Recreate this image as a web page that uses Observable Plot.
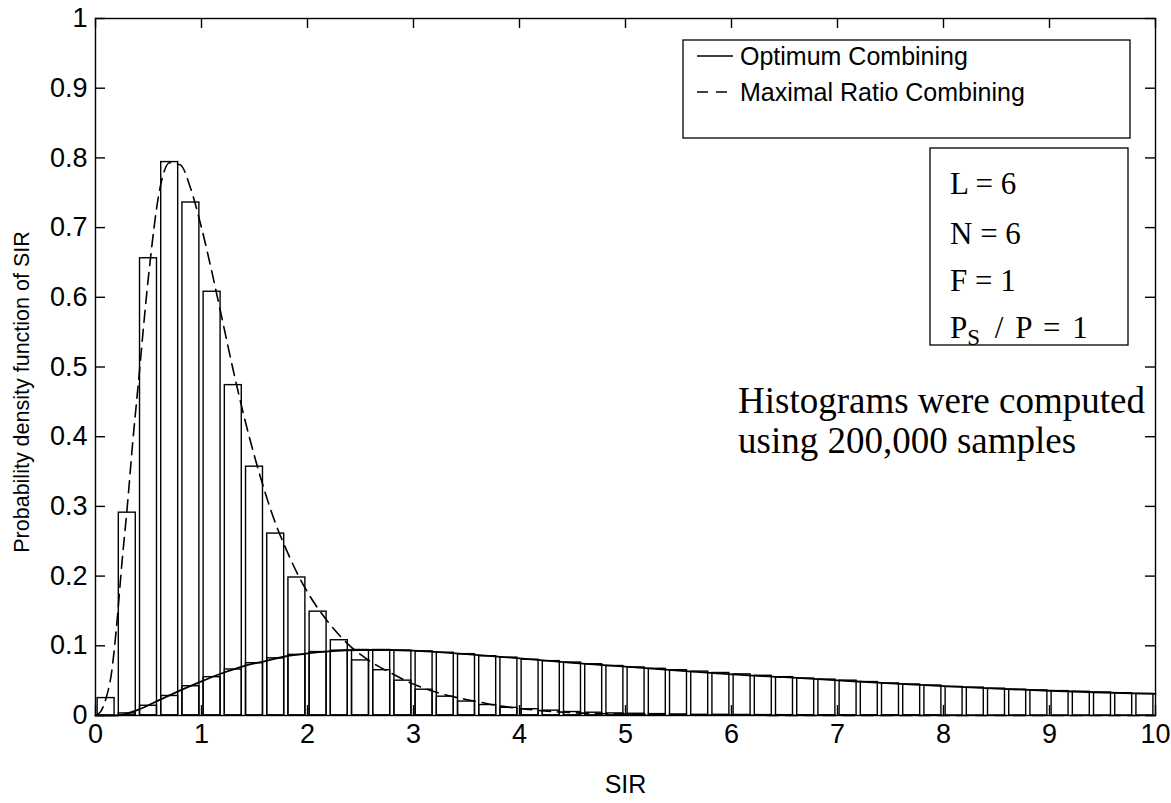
<!DOCTYPE html>
<html><head><meta charset="utf-8">
<script src="https://cdn.jsdelivr.net/npm/d3@7"></script>
<script src="https://cdn.jsdelivr.net/npm/@observablehq/plot@0.6"></script>
<style>body{margin:0;background:#fff}</style>
</head><body><div id="chart"></div>
<script>
// Histogram bin centres (SIR)
const binCenters = [0.1,0.3,0.5,0.7,0.9,1.1,1.3,1.5,1.7,1.9,2.1,2.3,2.5,2.7,2.9,3.1,3.3,3.5,3.7,3.9,
  4.1,4.3,4.5,4.7,4.9,5.1,5.3,5.5,5.7,5.9,6.1,6.3,6.5,6.7,6.9,7.1,7.3,7.5,7.7,7.9,
  8.1,8.3,8.5,8.7,8.9,9.1,9.3,9.5,9.7,9.9];
// Maximal Ratio Combining histogram
const mrcHist = [0.025,0.291,0.656,0.794,0.736,0.608,0.474,0.357,0.261,0.198,0.149,0.108,0.079,0.065,0.050,0.037,0.027,0.020,0.015,0.011,
  0.009,0.007,0.005,0.004,0.003,0.0025,0.002,0.0015,0.001,0.001,0.0008,0.0006,0.0005,0.0004,0.0003,0.0002,0.0002,0.0001,0.0001,0.0001,
  0,0,0,0,0,0,0,0,0,0];
// Optimum Combining histogram
const ocHist = [0.000,0.003,0.014,0.028,0.042,0.055,0.066,0.075,0.082,0.087,0.091,0.093,0.094,0.094,0.093,0.092,0.090,0.088,0.085,0.083,
  0.080,0.078,0.076,0.0735,0.071,0.069,0.067,0.065,0.063,0.061,0.059,0.057,0.055,0.053,0.0515,0.050,0.048,0.046,0.0445,0.043,
  0.041,0.040,0.0385,0.037,0.036,0.035,0.034,0.033,0.032,0.031];
const barWidth = 0.16;
// Optimum Combining curve
const ocX = [0,0.2,0.3,0.4,0.6,0.8,1.0,1.2,1.4,1.6,1.8,2.0,2.2,2.5,2.8,3.0,3.5,4.0,4.5,5.0,5.5,6.0,6.5,7.0,7.5,8.0,8.5,9.0,9.5,10];
const ocY = [0,0,0.003,0.008,0.022,0.036,0.049,0.061,0.071,0.078,0.085,0.089,0.092,0.094,0.094,0.093,0.088,0.082,0.0755,0.070,0.0645,0.059,0.055,0.0505,0.046,0.042,0.0385,0.0355,0.033,0.031];
// Maximal Ratio Combining curve
const mrcX = [0,0.05,0.1,0.15,0.2,0.25,0.3,0.35,0.4,0.5,0.6,0.7,0.8,0.9,1.0,1.1,1.2,1.3,1.4,1.5,1.6,1.7,1.8,1.9,2.0,2.2,2.4,2.6,2.8,3.0,3.2,3.4,3.6,3.8,4.0,4.5,5.0,6.0,7.0,10];
const mrcY = [0,0.006,0.025,0.06,0.13,0.22,0.30,0.39,0.47,0.63,0.75,0.793,0.79,0.755,0.70,0.635,0.565,0.495,0.43,0.372,0.32,0.275,0.238,0.205,0.177,0.133,0.1,0.077,0.06,0.045,0.034,0.026,0.02,0.014,0.01,0.004,0.002,0.0005,0,0];
// Ticks
const xTicks = [0,1,2,3,4,5,6,7,8,9,10];
const yTicks = [0,0.1,0.2,0.3,0.4,0.5,0.6,0.7,0.8,0.9,1];
const legendLabels = ["Optimum Combining","Maximal Ratio Combining"];
const paramLines = ["L = 6","N = 6","F = 1"];
const noteLines = ["Histograms were computed","using 200,000 samples"];

const W = 1171, H = 803, mL = 95, mR = 16, mT = 18, mB = 88;
const plotW = W - mL - mR, plotH = H - mT - mB;
const ocRows = binCenters.map((c,i)=>({x1:c-barWidth/2,x2:c+barWidth/2,y:ocHist[i]}));
const mrcRows = binCenters.map((c,i)=>({x1:c-barWidth/2,x2:c+barWidth/2,y:mrcHist[i]}));
const ocLine = ocX.map((x,i)=>({x,y:ocY[i]}));
const mrcLine = mrcX.map((x,i)=>({x,y:mrcY[i]}));
const sans = "'Liberation Sans', Arial, Helvetica, sans-serif";
const serif = "'Liberation Serif', 'Times New Roman', serif";

const plot = Plot.plot({
  width: W, height: H, marginLeft: mL, marginRight: mR, marginTop: mT, marginBottom: mB,
  style: {fontFamily: sans, color: "#000", background: "#fff"},
  x: {domain: [0,10]},
  y: {domain: [0,1]},
  marks: [
    Plot.rectY(ocRows, {x1:"x1", x2:"x2", y:"y", fill:"none", stroke:"#000", strokeWidth:1.4}),
    Plot.rectY(mrcRows, {x1:"x1", x2:"x2", y:"y", fill:"none", stroke:"#000", strokeWidth:1.4}),
    Plot.line(ocLine, {x:"x", y:"y", stroke:"#000", strokeWidth:1.8, curve:"monotone-x"}),
    Plot.line(mrcLine, {x:"x", y:"y", stroke:"#000", strokeWidth:1.6, strokeDasharray:"12,7", curve:"monotone-x"}),
    Plot.frame({stroke:"#000", strokeWidth:1.4}),
    Plot.tickX(xTicks, {x:d=>d, insetTop: plotH-10, stroke:"#000", strokeWidth:1.4}),
    Plot.tickX(xTicks, {x:d=>d, insetBottom: plotH-10, stroke:"#000", strokeWidth:1.4}),
    Plot.tickY(yTicks, {y:d=>d, insetRight: plotW-10, stroke:"#000", strokeWidth:1.4}),
    Plot.tickY(yTicks, {y:d=>d, insetLeft: plotW-10, stroke:"#000", strokeWidth:1.4}),
    Plot.axisX(xTicks, {tickSize:0, tickPadding:8, fontSize:27, label:null, tickFormat:d=>String(d)}),
    Plot.axisY(yTicks, {tickSize:0, tickPadding:8, fontSize:27, label:null, tickFormat:d=>String(d)}),
    Plot.text(["SIR"], {frameAnchor:"bottom", dy:77, fontSize:25}),
    Plot.text(["Probability density function of SIR"], {frameAnchor:"left", textAnchor:"middle", dx:-73, dy:25, rotate:-90, fontSize:21.5})
  ]
});
document.getElementById("chart").appendChild(plot);

// Annotations
const svg = d3.select(plot);
const g = svg.append("g").attr("text-anchor","start");
// legend box
g.append("rect").attr("x",683).attr("y",40).attr("width",447).attr("height",98)
  .attr("fill","#fff").attr("stroke","#000").attr("stroke-width",1.3);
g.append("line").attr("x1",697).attr("x2",733).attr("y1",56).attr("y2",56).attr("stroke","#000").attr("stroke-width",1.4);
g.append("line").attr("x1",697).attr("x2",733).attr("y1",92).attr("y2",92).attr("stroke","#000").attr("stroke-width",1.4).attr("stroke-dasharray","11,8");
legendLabels.forEach((t,i)=>{
  g.append("text").attr("x",740).attr("y",[56,92][i]).attr("dy","0.35em")
   .attr("font-family",sans).attr("font-size",25).attr("fill","#000").text(t);
});
// parameter box
g.append("rect").attr("x",930).attr("y",148).attr("width",198).attr("height",197)
  .attr("fill","#fff").attr("stroke","#000").attr("stroke-width",1.3);
const pys = [183,233,280,327];
paramLines.forEach((t,i)=>{
  g.append("text").attr("x",950).attr("y",pys[i]).attr("dy","0.35em")
   .attr("font-family",serif).attr("font-size",31).attr("fill","#000").text(t);
});
const ps = g.append("text").attr("x",950).attr("y",pys[3]).attr("dy","0.35em")
   .attr("font-family",serif).attr("font-size",31).attr("fill","#000");
ps.append("tspan").text("P");
ps.append("tspan").attr("font-size",23).attr("dy",7).text("S");
ps.append("tspan").attr("dy",-7).attr("dx",3).attr("word-spacing",4).text(" / P = 1");
// note
noteLines.forEach((t,i)=>{
  g.append("text").attr("x",738).attr("y",[400,440][i]).attr("dy","0.35em")
   .attr("font-family",serif).attr("font-size",37).attr("fill","#000").text(t);
});
</script>
</body></html>
